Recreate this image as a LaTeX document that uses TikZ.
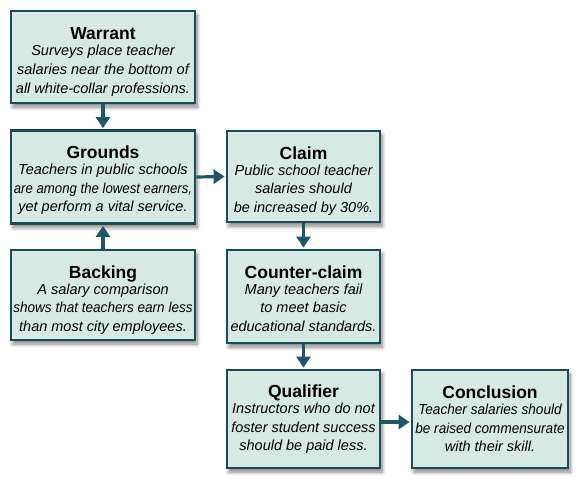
\documentclass[tikz,border=0pt]{standalone}
\usepackage{fontspec}
\usepackage{graphicx}
\setmainfont{Liberation Sans}
\usetikzlibrary{arrows.meta,shadows.blur}
\definecolor{boxfill}{HTML}{D5EAE2}
\definecolor{boxedge}{HTML}{1D4A55}
\definecolor{arrowc}{HTML}{1F5864}
\tikzset{
  tbox/.style={draw=boxedge, line width=2.8pt, fill=boxfill, align=center,
    inner sep=0pt, font=\fontsize{14.5}{18.5}\selectfont\itshape,
    blur shadow={shadow xshift=2pt, shadow yshift=-4pt, shadow blur radius=4pt, shadow blur steps=8, shadow opacity=50}},
  conn/.style={draw=arrowc, line width=3.2pt, -{Triangle[width=14pt,length=11pt]}, shorten >=1pt, shorten <=0pt}
}
\newcommand{\boxtitle}[2]{\rule{0pt}{#1pt}{\fontsize{17.5}{20}\selectfont\bfseries\upshape #2}\\[-2.5pt]}
\newcommand{\squeeze}[2]{\scalebox{#1}[1]{#2}}
\begin{document}
\begin{tikzpicture}[x=1pt,y=-1pt]
\useasboundingbox (0,0) rectangle (585,480);
\node[tbox, minimum width=184pt, minimum height=92pt] (warrant) at (103,57)
  {\boxtitle{22}{Warrant}Surveys place teacher\\ salaries near the bottom of\\ all white-collar professions.};
\node[tbox, minimum width=184pt, minimum height=93pt] (grounds) at (103,177)
  {\boxtitle{19}{Grounds}Teachers in public schools\\ \squeeze{0.91}{are among the lowest earners,}\\ yet perform a vital service.};
\node[tbox, minimum width=184pt, minimum height=90pt] (backing) at (103,295)
  {\boxtitle{22}{Backing}A salary comparison\\ \squeeze{0.935}{shows that teachers earn less}\\ than most city employees.};
\node[tbox, minimum width=153pt, minimum height=91pt] (claim) at (303.5,176.5)
  {\boxtitle{21}{Claim}Public school teacher\\ salaries should\\ be increased by 30\%.};
\node[tbox, minimum width=153pt, minimum height=93pt] (counter) at (303.5,296.5)
  {\boxtitle{17}{Counter-claim}Many teachers fail\\ to meet basic\\ educational standards.};
\node[tbox, minimum width=153pt, minimum height=98pt] (qualifier) at (303.5,419)
  {\boxtitle{13}{Qualifier}Instructors who do not\\ foster student success\\ should be paid less.};
\node[tbox, minimum width=156pt, minimum height=98pt] (conclusion) at (490,419)
  {\boxtitle{12}{Conclusion}\squeeze{0.94}{Teacher salaries should}\\ \squeeze{0.935}{be raised commensurate}\\ with their skill.};
\draw[conn] (warrant.south) -- (grounds.north);
\draw[conn] (backing.north) -- (grounds.south);
\draw[conn] (grounds.east) -- (claim.west);
\draw[conn] (claim.south) -- (counter.north);
\draw[conn] (counter.south) -- (qualifier.north);
\draw[conn] ([yshift=-3pt]qualifier.east) -- ([yshift=-3pt]conclusion.west);
\end{tikzpicture}
\end{document}
